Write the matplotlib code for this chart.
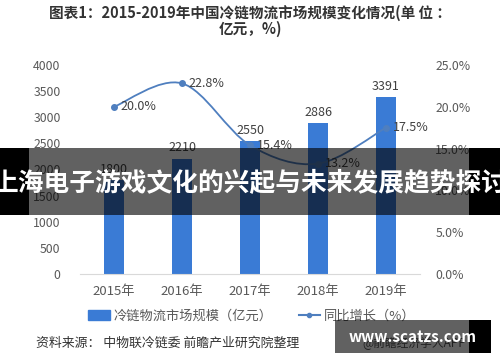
import matplotlib
matplotlib.use("Agg")
import matplotlib.pyplot as plt
from matplotlib.patches import Rectangle, PathPatch
from matplotlib.path import Path
from matplotlib.lines import Line2D
import numpy as np

plt.rcParams['font.family'] = ['Noto Sans CJK SC', 'DejaVu Sans']

years = ["2015年", "2016年", "2017年", "2018年", "2019年"]
market = [1800, 2210, 2550, 2886, 3391]
growth = [20.0, 22.8, 15.4, 13.2, 17.5]
left_ticks = [0, 500, 1000, 1500, 2000, 2500, 3000, 3500, 4000]
right_ticks = [0, 5, 10, 15, 20, 25]

title = "图表1：2015-2019年中国冷链物流市场规模变化情况(单 位 ：\n亿元，%)"
banner = "上海电子游戏文化的兴起与未来发展趋势探讨"
source = "资料来源： 中物联冷链委 前瞻产业研究院整理"

W, H = 500, 362
fig = plt.figure(figsize=(5, 3.62), dpi=100)
ax = fig.add_axes([80 / W, 1 - 274 / H, 340 / W, 209 / H])
ax2 = ax.twinx()

bar_color = "#3a7bd5"
line_color = "#4f7fbf"
text_gray = "#595959"

x = np.arange(len(years))
ax.bar(x, market, width=0.3, color=bar_color, zorder=2)
for xi, v in zip(x, market):
    ax.text(xi, v + 80, str(v), ha="center", va="bottom", fontsize=9, color="#404040")

ax.set_xlim(-0.5, len(years) - 0.5)
ax.set_ylim(0, 4000)
ax.set_yticks(left_ticks)
ax.set_yticklabels([str(t) for t in left_ticks])
ax.set_xticks(x)
ax.set_xticklabels(years)
ax.tick_params(axis="y", length=0, labelsize=8.8, colors=text_gray, pad=14)
ax.tick_params(axis="x", length=0, labelsize=9.5, colors=text_gray, pad=8)
for s in ["top", "right", "left"]:
    ax.spines[s].set_visible(False)
ax.spines["bottom"].set_color("#d9d9d9")

# smooth line via Catmull-Rom -> Bezier
g = np.array(growth) / 100.0
pts = np.column_stack([x, g])
verts = [tuple(pts[0])]
codes = [Path.MOVETO]
n = len(pts)
for i in range(n - 1):
    p0 = pts[i - 1] if i > 0 else pts[i]
    p1 = pts[i]
    p2 = pts[i + 1]
    p3 = pts[i + 2] if i + 2 < n else pts[i + 1]
    c1 = p1 + (p2 - p0) / 6.0
    c2 = p2 - (p3 - p1) / 6.0
    verts += [tuple(c1), tuple(c2), tuple(p2)]
    codes += [Path.CURVE4] * 3
ax2.add_patch(PathPatch(Path(verts, codes), facecolor="none", edgecolor=line_color, lw=1.3, zorder=3))
ax2.plot(x, g, "o", color=line_color, ms=4, zorder=4)
for xi, gi, v in zip(x, g, growth):
    ax2.annotate(f"{v:.1f}%", (xi, gi), xytext=(5, 0), textcoords="offset points",
                 ha="left", va="center", fontsize=9, color="#404040")

ax2.set_ylim(0, 0.25)
ax2.set_yticks([t / 100 for t in right_ticks])
ax2.set_yticklabels([f"{t:.1f}%" for t in right_ticks])
ax2.tick_params(axis="y", length=0, labelsize=8.8, colors=text_gray, pad=11)
for s in ["top", "right", "left", "bottom"]:
    ax2.spines[s].set_visible(False)

# legend
handles = [Rectangle((0, 0), 1, 1, color=bar_color),
           Line2D([0], [0], color=line_color, lw=1.5, marker="o", ms=3)]
labels = ["冷链物流市场规模（亿元）", "同比增长（%）"]
fig.legend(handles, labels, loc="center", bbox_to_anchor=(252 / W, 1 - 316 / H), ncol=2,
           frameon=False, fontsize=9.5, labelcolor=text_gray, handlelength=1.6,
           handleheight=0.7, columnspacing=2.0, handletextpad=0.3)

fig.text(250 / W, 1 - 21 / H, title, ha="center", va="center", fontsize=10.5,
         fontweight="bold", color="#333333", linespacing=1.0)
fig.text(36 / W, 1 - 343 / H, source, ha="left", va="center", fontsize=9.3, color="#333333")
fig.text(362 / W, 1 - 343 / H, "@前瞻经济学人APP", ha="left", va="center", fontsize=8.5, color="#555555")

# overlay banner
fig.patches.append(Rectangle((0, 1 - 215 / H), 29 / W, 67 / H, transform=fig.transFigure,
                             facecolor="black", edgecolor="none", zorder=5))
fig.patches.append(Rectangle((469 / W, 1 - 215 / H), 31 / W, 67 / H, transform=fig.transFigure,
                             facecolor="black", edgecolor="none", zorder=5))
fig.patches.append(Rectangle((29 / W, 1 - 215 / H), 440 / W, 67 / H, transform=fig.transFigure,
                             facecolor="black", edgecolor="none", alpha=0.62, zorder=6))
fig.text(0.5, 1 - 184 / H, banner, ha="center", va="center", fontsize=18.5, fontweight="bold",
         color="white", zorder=10)

# watermark box
fig.patches.append(Rectangle((469 / W, 1 - 353 / H), 22 / W, 33 / H, transform=fig.transFigure,
                             facecolor="black", edgecolor="none", zorder=5))
fig.patches.append(Rectangle((335 / W, 1 - 353 / H), 134 / W, 33 / H, transform=fig.transFigure,
                             facecolor="black", edgecolor="none", alpha=0.62, zorder=6))
fig.text(413 / W, 1 - 337 / H, "www.scatzs.com", ha="center", va="center", fontsize=11,
         fontweight="bold", color="white", zorder=10)

fig.savefig("out.png", dpi=100)
